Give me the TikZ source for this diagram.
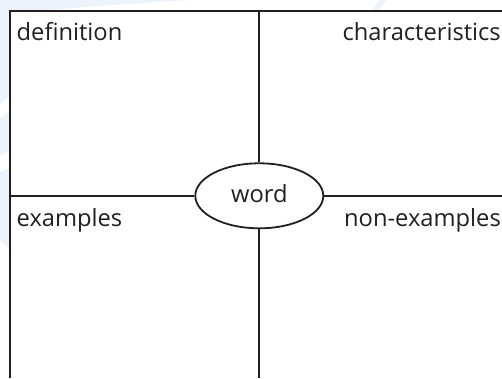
\documentclass[tikz,border=0pt]{standalone}
\usepackage{fontspec}
\setmainfont{Open Sans}
\usetikzlibrary{shapes.geometric}
\definecolor{ink}{RGB}{35,31,32}
\definecolor{wash}{RGB}{236,243,250}
\begin{document}
\begin{tikzpicture}[x=1pt,y=-1pt,
  grid/.style={draw=ink,line width=1.8pt},
  label/.style={inner sep=0pt,text=ink,font=\fontsize{23.7}{28}\selectfont},
  wordbox/.style={ellipse,draw=ink,line width=1.8pt,fill=white,inner sep=0pt,
    minimum width=128pt,minimum height=65pt,text=ink,text depth=4pt,
    font=\fontsize{23.7}{28}\selectfont}]
\useasboundingbox (0,0) rectangle (502,378);
% faint background watermark in the margins
\fill[wash] (0,0) -- (190,0) .. controls (120,4) and (70,8) .. (40,10.7) -- (10,10.7) -- (10,95) .. controls (5,100) and (2,102) .. (0,104) -- cycle;
\fill[wash] (0,118) .. controls (4,115) and (7,113) .. (10,112) -- (10,150) .. controls (6,152) and (3,154) .. (0,156) -- cycle;
\fill[wash] (0,172) .. controls (4,170) and (7,169) .. (10,168) -- (10,250) .. controls (6,245) and (3,242) .. (0,240) -- cycle;
\fill[wash] (372,10.7) -- (380,0) -- (386,0) -- (378,10.7) -- cycle;
% coordinates of the grid
\coordinate (tl) at (10,10.7);
\coordinate (tr) at (502,10.7);
\coordinate (bl) at (10,378);
\coordinate (tm) at (259.3,10.7);
\coordinate (bm) at (259.3,378);
\coordinate (lm) at (10,195.8);
\coordinate (rm) at (502,195.8);
\node[wordbox] (w) at (259.3,195.8) {word};
\draw[grid] (tr) -- (tl) -- (bl);
\draw[grid] (tm) -- (w.north);
\draw[grid] (w.south) -- (bm);
\draw[grid] (lm) -- (w.west);
\draw[grid] (w.east) -- (rm);
\node[label,anchor=base west] (def) at (16.5,40) {definition};
\node[label,anchor=base east] (cha) at (501,40) {characteristics};
\node[label,anchor=base west] (ex) at (16.5,226) {examples};
\node[label,anchor=base east] (nex) at (501,226) {non-examples};
\end{tikzpicture}
\end{document}
